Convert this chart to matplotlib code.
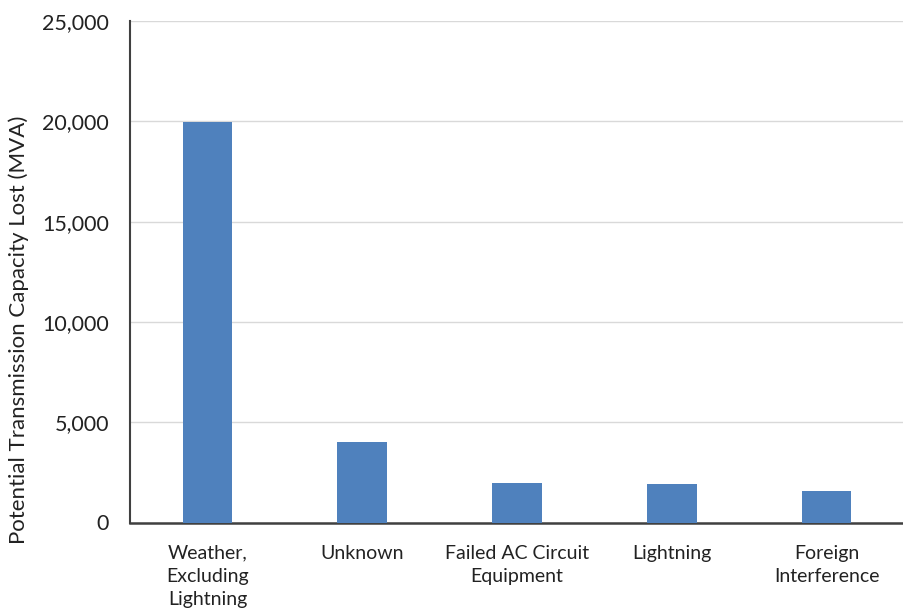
import numpy as np
import matplotlib.pyplot as plt
from matplotlib.ticker import FuncFormatter

categories = ['Weather,\nExcluding\nLightning', 'Unknown', 'Failed AC Circuit\nEquipment',
              'Lightning', 'Foreign\nInterference']
values = [19950, 4010, 1970, 1900, 1570]

plt.rcParams['font.family'] = ['Lato', 'DejaVu Sans']

fig = plt.figure(figsize=(9.04, 6.15), dpi=100)
ax = fig.add_axes([130 / 904, 1 - 522.5 / 615, 774 / 904, 501.5 / 615])

x = np.arange(len(categories))
ax.bar(x, values, width=0.32, color='#4f81bd', zorder=3)

ax.set_xlim(-0.5, len(categories) - 0.5)
ax.set_ylim(0, 25000)
ax.set_yticks(np.arange(0, 25001, 5000))
ax.yaxis.set_major_formatter(FuncFormatter(lambda v, p: f'{int(v):,}'))
ax.set_xticks(x)
ax.set_xticklabels(categories, fontsize=14, color='#222222', linespacing=1.45)
ax.tick_params(axis='y', length=0, pad=15, labelsize=15.5, labelcolor='#222222')
ax.tick_params(axis='x', length=0, pad=16)
ax.grid(axis='y', color='#d9d9d9', linewidth=1, zorder=0)

for s in ['top', 'right']:
    ax.spines[s].set_visible(False)
ax.spines['left'].set_color('#404040')
ax.spines['left'].set_linewidth(1.5)
ax.spines['bottom'].set_color('#404040')
ax.spines['bottom'].set_linewidth(1.8)

ax.set_ylabel('Potential Transmission Capacity Lost (MVA)', fontsize=16, color='#222222')
ax.yaxis.set_label_coords(-0.131, 0.384)

fig.savefig('out.png', dpi=100)
